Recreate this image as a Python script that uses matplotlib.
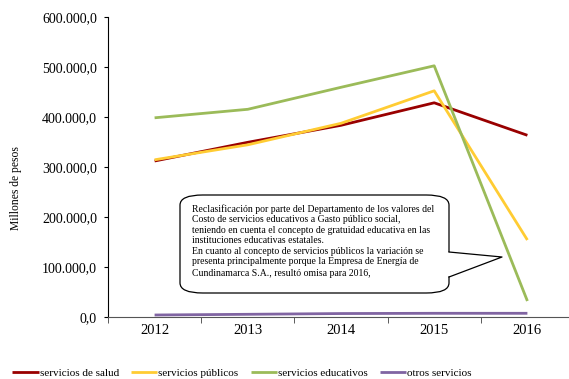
import matplotlib
matplotlib.use("Agg")
import matplotlib.pyplot as plt
from matplotlib.patches import FancyBboxPatch, Polygon
from matplotlib.lines import Line2D
from matplotlib.ticker import FuncFormatter

years = ["2012", "2013", "2014", "2015", "2016"]
salud = [312600, 350000, 384000, 429000, 364000]
publicos = [315000, 345000, 388000, 453000, 154600]
educativos = [399000, 416000, 460000, 503000, 32600]
otros = [4600, 6000, 7500, 8000, 8000]

names = ["servicios de salud", "servicios públicos", "servicios educativos", "otros servicios"]
colors = ["#990000", "#FFCC33", "#9BBB59", "#8064A2"]

note_lines = [
    "Reclasificación por parte del Departamento de los valores del",
    "Costo de servicios educativos a Gasto público social,",
    "teniendo en cuenta el concepto de gratuidad educativa en las",
    "instituciones educativas estatales.",
    "En cuanto al concepto de servicios públicos la variación se",
    "presenta principalmente porque la Empresa de Energía de",
    "Cundinamarca S.A., resultó omisa para 2016,",
]

plt.rcParams['font.family'] = ['Liberation Serif', 'DejaVu Serif']

W, H = 569, 379
fig = plt.figure(figsize=(W / 100, H / 100), dpi=100)

def fx(x):
    return x / W

def fy(y):
    return 1 - y / H

ax = fig.add_axes([fx(108), fy(317.3), fx(574) - fx(108), fy(17.3) - fy(317.3)])

x = list(range(len(years)))
for vals, name, c in zip([salud, publicos, educativos, otros], names, colors):
    ax.plot(x, vals, color=c, lw=2.0, label=name, solid_capstyle="butt")

ax.set_xlim(-0.5, len(years) - 0.5)
ax.set_ylim(0, 600000)
ax.set_yticks(range(0, 600001, 100000))
ax.yaxis.set_major_formatter(FuncFormatter(
    lambda v, p: "{:,.1f}".format(v).replace(",", "X").replace(".", ",").replace("X", ".")))
ax.set_xticks(x)
ax.set_xticklabels(years)
ax.set_xticks([i - 0.5 for i in range(len(years) + 1)], minor=True)
ax.tick_params(axis="x", which="major", length=0, labelsize=10.5, pad=5)
ax.tick_params(axis="x", which="minor", length=4, direction="out", color="#404040")
ax.tick_params(axis="y", length=3, direction="out", labelsize=10, pad=5)
ax.spines["top"].set_visible(False)
ax.spines["right"].set_visible(False)
ax.spines["bottom"].set_color("#555555")
ax.set_ylabel("Millones de pesos", fontsize=8.4)
ax.yaxis.set_label_coords(-0.184, 0.43)

# callout box
box = FancyBboxPatch((fx(180), fy(293)), fx(449) - fx(180), fy(195) - fy(293),
                     boxstyle="round,pad=0,rounding_size=0.04",
                     transform=fig.transFigure, facecolor="white", edgecolor="black",
                     lw=0.9, zorder=5, mutation_aspect=H / W)
fig.add_artist(box)
tip = Polygon([(fx(447), fy(252)), (fx(502), fy(257)), (fx(447), fy(277))],
              closed=True, transform=fig.transFigure, facecolor="white",
              edgecolor="none", zorder=6)
fig.add_artist(tip)
fig.add_artist(Line2D([fx(449), fx(502), fx(449)], [fy(252), fy(257), fy(277)],
                      transform=fig.transFigure, color="black", lw=0.9, zorder=7))
baselines = [212, 222.5, 233, 243, 253.5, 264, 276]
for line, b in zip(note_lines, baselines):
    fig.text(fx(192), fy(b), line, fontsize=7.0, va="baseline", ha="left", zorder=8)

fig.legend(loc="center", bbox_to_anchor=(fx(242), fy(373)), ncol=4, frameon=False,
           fontsize=8, handlelength=2.35, handletextpad=0.1, columnspacing=1.1)

fig.savefig("out.png", dpi=100)
